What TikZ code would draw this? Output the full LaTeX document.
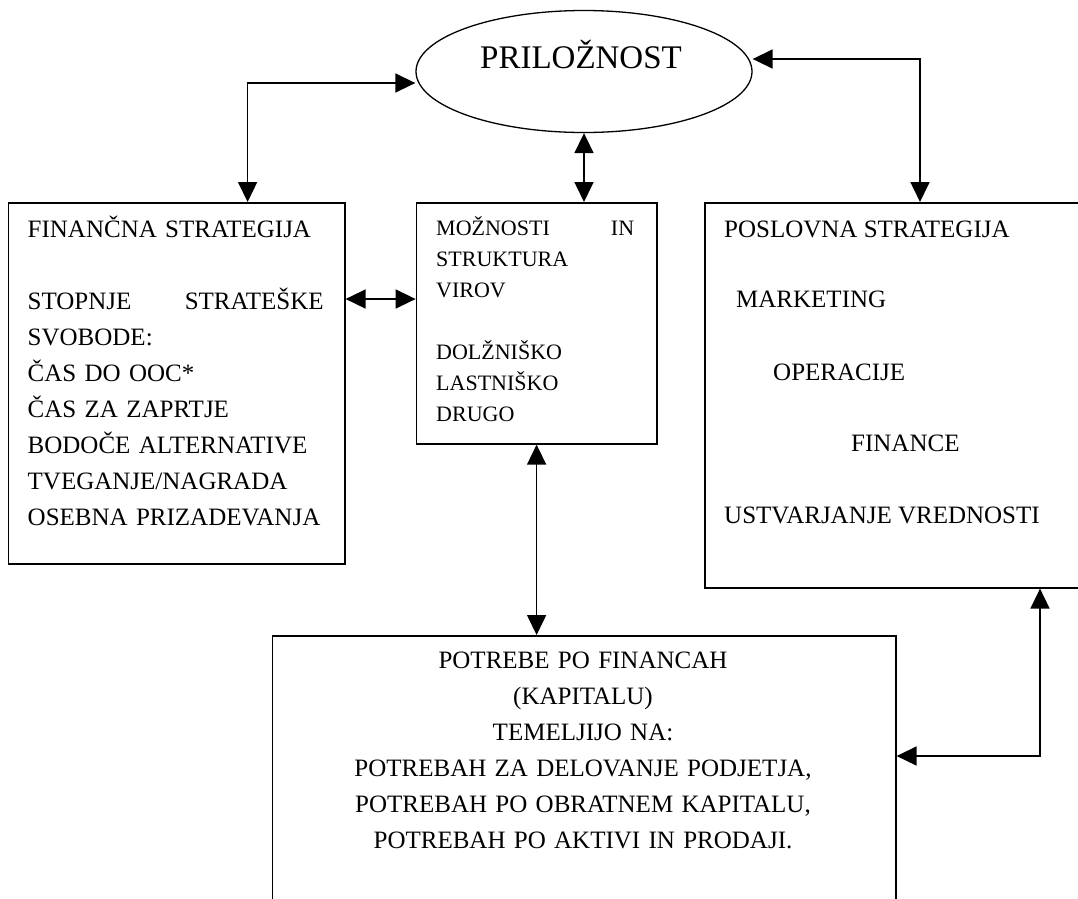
\documentclass[tikz,border=0pt]{standalone}
\usepackage{fontspec}
\setmainfont{Liberation Serif}
\usetikzlibrary{arrows.meta,shapes.geometric}
\tikzset{
  box/.style={draw, line width=1.6pt, rectangle, inner sep=0pt, anchor=north west},
  oval/.style={draw, line width=1.3pt, ellipse, inner sep=0pt},
  txt/.style={inner sep=0pt, font=\fontsize{25}{36}\selectfont},
  smalltxt/.style={inner sep=0pt, font=\fontsize{22}{31}\selectfont},
  dbl/.style={{Triangle[length=20pt,width=19pt]}-{Triangle[length=20pt,width=19pt]}, line width=1.6pt},
}
\begin{document}
\begin{tikzpicture}[x=1pt,y=-1pt]
\useasboundingbox (0,0) rectangle (1078,898);
\clip (0,0) rectangle (1078,898);
\fill[white] (0,0) rectangle (1078,898);

% nodes
\node[oval, minimum width=336pt, minimum height=122pt] (opp) at (584,71.5) {};
\node[txt, font=\fontsize{33}{40}\selectfont, anchor=base] (oppt) at (581,68) {PRILOŽNOST};

\node[box, minimum width=336.4pt, minimum height=361pt] (fin) at (7.6,202) {};
\node[box, minimum width=240.4pt, minimum height=241pt] (mid) at (415.6,202) {};
\node[box, minimum width=386pt, minimum height=385pt] (biz) at (704,202) {};
\node[box, minimum width=623.5pt, minimum height=355pt] (bot) at (271.5,635) {};

% texts
\node[txt, text width=296pt, align=left, anchor=base west] (fint) at (27.5,237)
 {FINANČNA STRATEGIJA\\[36pt]
  \makebox[\linewidth]{STOPNJE\hfill STRATEŠKE}\\
  SVOBODE:\\
  ČAS DO OOC*\\
  ČAS ZA ZAPRTJE\\
  BODOČE ALTERNATIVE\\
  TVEGANJE/NAGRADA\\
  OSEBNA PRIZADEVANJA};

\node[smalltxt, text width=198pt, align=left, anchor=base west] (midt) at (436,235)
 {\makebox[\linewidth]{MOŽNOSTI\hfill IN}\\
  STRUKTURA\\
  VIROV\\[31pt]
  DOLŽNIŠKO\\
  LASTNIŠKO\\
  DRUGO};

\node[txt, anchor=base west] (biz1) at (724,237) {POSLOVNA STRATEGIJA};
\node[txt, anchor=base west] (biz2) at (736,307) {MARKETING};
\node[txt, anchor=base west] (biz3) at (773,380) {OPERACIJE};
\node[txt, anchor=base west] (biz4) at (851,451) {FINANCE};
\node[txt, anchor=base west] (biz5) at (724,523) {USTVARJANJE VREDNOSTI};

\node[txt, text width=600pt, align=center, anchor=base] (bott) at (583,668)
 {POTREBE PO FINANCAH\\
  (KAPITALU)\\
  TEMELJIJO NA:\\
  POTREBAH ZA DELOVANJE PODJETJA,\\
  POTREBAH PO OBRATNEM KAPITALU,\\
  POTREBAH PO AKTIVI IN PRODAJI.};

% helper coordinates
\coordinate (c1) at (247.6,83);
\coordinate (c2) at (920,59);
\coordinate (c3) at (0,299);
\coordinate (c4) at (1040,756);

% connectors
\draw[dbl] (fin.north -| c1) |- (opp.west |- c1);
\draw[dbl] (opp.east |- c2) -| (biz.north -| c2);
\draw[dbl] (fin.east |- c3) -- (mid.west |- c3);
\draw[dbl] (opp.south) -- (opp.south |- mid.north);
\draw[dbl] (mid.south) -- (mid.south |- bot.north);
\draw[dbl] (bot.east |- c4) -| (biz.south -| c4);
\end{tikzpicture}
\end{document}
